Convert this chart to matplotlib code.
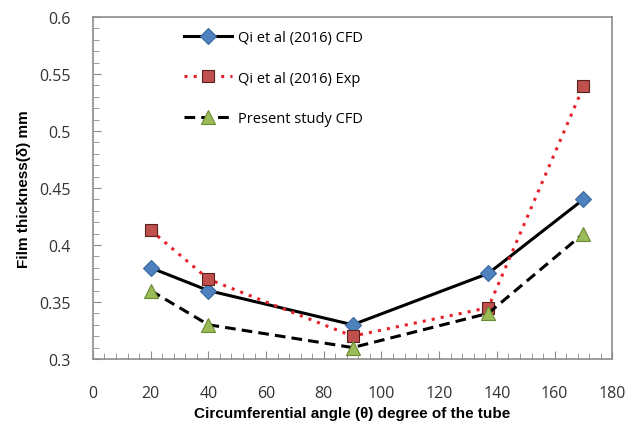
import matplotlib.pyplot as plt
from matplotlib.ticker import MultipleLocator

angle = [20, 40, 90, 137, 170]
qi_cfd = [0.38, 0.36, 0.33, 0.375, 0.44]
qi_exp = [0.413, 0.37, 0.32, 0.345, 0.539]
present_cfd = [0.36, 0.33, 0.31, 0.34, 0.41]

fig = plt.figure(figsize=(6.28, 4.27), dpi=100)
ax = fig.add_axes([0.148, 0.157, 0.827, 0.801])

ax.plot(angle, qi_cfd, color='black', lw=2.2, marker='D', ms=8,
        mfc='#4f81bd', mec='#3a6aa0', mew=0.8, label='Qi et al (2016) CFD')
ax.plot(angle, qi_exp, color='#e8202a', lw=2.2, ls=(0, (1, 2)), marker='s', ms=8,
        mfc='#c0504d', mec='#5a2020', mew=0.8, label='Qi et al (2016) Exp')
ax.plot(angle, present_cfd, color='black', lw=2.2, ls=(0, (3.5, 2)), marker='^', ms=10,
        mfc='#9bbb59', mec='#6a8a30', mew=0.8, label='Present study CFD')

ax.set_xlim(0, 180)
ax.set_ylim(0.3, 0.6)
ax.xaxis.set_major_locator(MultipleLocator(20))
ax.xaxis.set_minor_locator(MultipleLocator(4))
ax.yaxis.set_minor_locator(MultipleLocator(0.01))
ax.set_yticks([0.3, 0.35, 0.4, 0.45, 0.5, 0.55, 0.6])
ax.set_yticklabels(['0.3', '0.35', '0.4', '0.45', '0.5', '0.55', '0.6'])

for s in ax.spines.values():
    s.set_color('#8c8c8c')
    s.set_linewidth(1.2)
ax.tick_params(which='both', direction='in', color='#8c8c8c', top=False, right=False)
ax.tick_params(which='major', length=6, labelsize=11.5, labelcolor='#333333')
ax.tick_params(which='minor', length=4)
ax.tick_params(axis='x', which='major', pad=19)
ax.tick_params(axis='y', which='major', pad=16)
for lbl in ax.get_xticklabels() + ax.get_yticklabels():
    lbl.set_family('Open Sans')

ax.set_xlabel('Circumferential angle (θ) degree of the tube', fontsize=11,
              fontweight='bold', family='Liberation Sans', labelpad=3)
ax.set_ylabel('Film thickness(δ) mm', fontsize=11, fontweight='bold',
              family='Liberation Sans', labelpad=6)

leg = ax.legend(loc='upper left', bbox_to_anchor=(0.272, 0.958), bbox_transform=fig.transFigure,
                frameon=False, handlelength=3.3, labelspacing=1.75, handletextpad=0.4,
                prop={'family': 'Open Sans', 'size': 10.5})

fig.savefig('out.png', dpi=100)
